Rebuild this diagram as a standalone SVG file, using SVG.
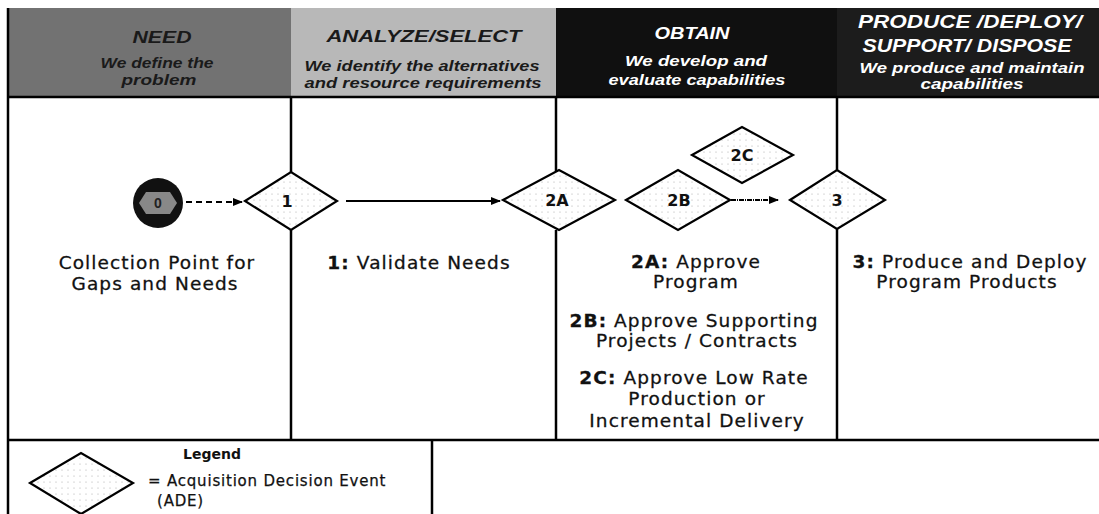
<svg xmlns="http://www.w3.org/2000/svg" width="1099" height="514" viewBox="0 0 1099 514">
<style>
.hdr{font-family:"Liberation Sans",Arial,sans-serif;font-weight:bold;font-style:italic;text-anchor:middle}
.dk{fill:#1a1a1a}
.wt{fill:#fff}
.lbl{font-family:"DejaVu Sans",Verdana,sans-serif;font-size:18.5px;letter-spacing:1.1px;fill:#111;stroke:#111;stroke-width:0.3;text-anchor:middle}
.dlbl{font-family:"DejaVu Sans",Verdana,sans-serif;font-size:16px;font-weight:bold;fill:#111;text-anchor:middle}
.dia{fill:url(#dots);stroke:#000;stroke-width:2.2}
.grid{stroke:#000;stroke-width:2.5;fill:none}
.conn{stroke:#000;stroke-width:2;fill:none}
.leg{font-family:"DejaVu Sans",Verdana,sans-serif;font-size:15px;letter-spacing:0.8px;fill:#111;stroke:#111;stroke-width:0.25}
</style>
<defs>
<pattern id="dots" width="6" height="6" patternUnits="userSpaceOnUse">
<rect width="6" height="6" fill="#fff"/>
<circle cx="2" cy="2" r="0.6" fill="#aaa"/>
</pattern>
<marker id="arr" viewBox="0 0 10 10" refX="9" refY="5" markerWidth="10" markerHeight="10" markerUnits="userSpaceOnUse" orient="auto">
<path d="M0,1 L10,5 L0,9 z" fill="#000"/>
</marker>
</defs>
<rect width="1099" height="514" fill="#fff"/>

<g id="headers">
<g id="hdr-need">
<rect x="8" y="8" width="283" height="89" fill="#727272"/>
<text class="hdr dk" x="162" y="43" font-size="16" textLength="59" lengthAdjust="spacingAndGlyphs">NEED</text>
<text class="hdr dk" x="157" y="68" font-size="14" textLength="113" lengthAdjust="spacingAndGlyphs">We define the</text>
<text class="hdr dk" x="159" y="85" font-size="14" textLength="75" lengthAdjust="spacingAndGlyphs">problem</text>
</g>
<g id="hdr-analyze">
<rect x="291" y="8" width="265" height="89" fill="#b8b8b8"/>
<text class="hdr dk" x="424" y="42" font-size="16" textLength="195" lengthAdjust="spacingAndGlyphs">ANALYZE/SELECT</text>
<text class="hdr dk" x="422" y="71" font-size="14" textLength="235" lengthAdjust="spacingAndGlyphs">We identify the alternatives</text>
<text class="hdr dk" x="423" y="88" font-size="14" textLength="237" lengthAdjust="spacingAndGlyphs">and resource requirements</text>
</g>
<g id="hdr-obtain">
<rect x="556" y="8" width="281" height="89" fill="#101010"/>
<text class="hdr wt" x="692" y="39" font-size="16" textLength="75" lengthAdjust="spacingAndGlyphs">OBTAIN</text>
<text class="hdr wt" x="696" y="66" font-size="14.5" textLength="142" lengthAdjust="spacingAndGlyphs">We develop and</text>
<text class="hdr wt" x="697" y="85" font-size="14.5" textLength="177" lengthAdjust="spacingAndGlyphs">evaluate capabilities</text>
</g>
<g id="hdr-produce">
<rect x="837" y="8" width="262" height="89" fill="#1c1c1c"/>
<text class="hdr wt" x="970" y="28" font-size="18" textLength="224" lengthAdjust="spacingAndGlyphs">PRODUCE /DEPLOY/</text>
<text class="hdr wt" x="967" y="52" font-size="18" textLength="209" lengthAdjust="spacingAndGlyphs">SUPPORT/ DISPOSE</text>
<text class="hdr wt" x="972" y="73" font-size="14.5" textLength="225" lengthAdjust="spacingAndGlyphs">We produce and maintain</text>
<text class="hdr wt" x="972" y="89" font-size="14.5" textLength="103" lengthAdjust="spacingAndGlyphs">capabilities</text>
</g>
</g>

<g id="grid">
<line class="grid" x1="8" y1="8" x2="8" y2="514"/>
<line class="grid" x1="8" y1="97" x2="1099" y2="97"/>
<line class="grid" x1="291" y1="97" x2="291" y2="172"/>
<line class="grid" x1="291" y1="230" x2="291" y2="440"/>
<line class="grid" x1="556" y1="97" x2="556" y2="171"/>
<line class="grid" x1="556" y1="230" x2="556" y2="440"/>
<line class="grid" x1="837" y1="97" x2="837" y2="170"/>
<line class="grid" x1="837" y1="229" x2="837" y2="440"/>
<line class="grid" x1="8" y1="440" x2="1099" y2="440"/>
<line class="grid" x1="432" y1="440" x2="432" y2="514"/>
</g>

<g id="connectors">
<line class="conn" x1="186" y1="202" x2="242" y2="202" stroke-dasharray="6,4" marker-end="url(#arr)"/>
<line class="conn" x1="346" y1="201" x2="500" y2="201" marker-end="url(#arr)"/>
<line class="conn" x1="731" y1="200" x2="778" y2="200" stroke-dasharray="5,1,1,1" marker-end="url(#arr)"/>
</g>

<g id="node-0">
<circle cx="158" cy="203" r="25" fill="#111"/>
<polygon points="139,203 146,192 170,192 177,203 170,214 146,214" fill="#888"/>
<text x="158" y="208" font-family="Liberation Sans,Arial,sans-serif" font-size="14" font-weight="bold" fill="#222" text-anchor="middle">0</text>
</g>
<g id="node-1">
<polygon class="dia" points="245,201 291,172 337,201 291,230"/>
<text class="dlbl" x="287" y="207">1</text>
</g>
<g id="node-2A">
<polygon class="dia" points="503,200 559,170 615,200 559,230"/>
<text class="dlbl" x="557" y="206">2A</text>
</g>
<g id="node-2B">
<polygon class="dia" points="626,200 678,170 730,200 678,230"/>
<text class="dlbl" x="679" y="206">2B</text>
</g>
<g id="node-2C">
<polygon class="dia" points="692,155 742,127 793,155 742,183"/>
<text class="dlbl" x="742" y="161">2C</text>
</g>
<g id="node-3">
<polygon class="dia" points="790,200 837,170 885,200 837,229"/>
<text class="dlbl" x="837" y="206">3</text>
</g>

<g id="labels">
<text class="lbl" x="157" y="269">Collection Point for</text>
<text class="lbl" x="155" y="290">Gaps and Needs</text>
<text class="lbl" x="419" y="269"><tspan font-weight="bold">1:</tspan> Validate Needs</text>
<text class="lbl" x="696" y="268"><tspan font-weight="bold">2A:</tspan> Approve</text>
<text class="lbl" x="696" y="288">Program</text>
<text class="lbl" x="694" y="327"><tspan font-weight="bold">2B:</tspan> Approve Supporting</text>
<text class="lbl" x="697" y="347">Projects / Contracts</text>
<text class="lbl" x="694" y="384"><tspan font-weight="bold">2C:</tspan> Approve Low Rate</text>
<text class="lbl" x="697" y="405">Production or</text>
<text class="lbl" x="697" y="427">Incremental Delivery</text>
<text class="lbl" x="970" y="268"><tspan font-weight="bold">3:</tspan> Produce and Deploy</text>
<text class="lbl" x="967" y="288">Program Products</text>
</g>

<g id="legend">
<text x="212" y="459" font-family="DejaVu Sans,Verdana,sans-serif" font-size="14" font-weight="bold" fill="#111" text-anchor="middle">Legend</text>
<polygon class="dia" points="30,483 81,453 133,483 81,514"/>
<text class="leg" x="148" y="486">= Acquisition Decision Event</text>
<text class="leg" x="157" y="506">(ADE)</text>
</g>
</svg>
